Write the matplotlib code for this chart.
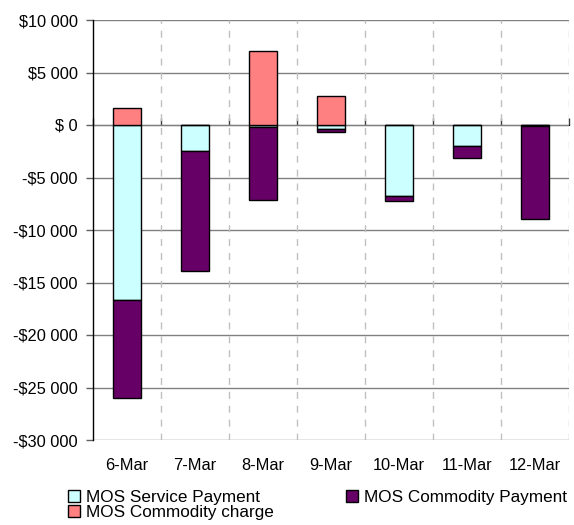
import matplotlib.pyplot as plt
import numpy as np

plt.rcParams['font.family'] = ['Liberation Sans', 'DejaVu Sans']

dates = ['6-Mar', '7-Mar', '8-Mar', '9-Mar', '10-Mar', '11-Mar', '12-Mar']
service_payment = [-16700, -2450, -220, -410, -6730, -1970, -100]
commodity_payment = [-9300, -11450, -6920, -290, -470, -1140, -8880]
commodity_charge = [1650, 0, 7050, 2800, 0, 0, 0]
yticks = [10000, 5000, 0, -5000, -10000, -15000, -20000, -25000, -30000]
ytick_labels = ['$10 000', '$5 000', '$ 0', '-$5 000', '-$10 000', '-$15 000',
                '-$20 000', '-$25 000', '-$30 000']

fig = plt.figure(figsize=(5.74, 5.25), dpi=100)
ax = fig.add_axes([93/574, 1 - 440/525, 476/574, 420/525])

x = np.arange(len(dates))
w = 0.4
ax.bar(x, service_payment, w, color='#CCFFFF', edgecolor='black', linewidth=1,
       label='MOS Service Payment', zorder=3)
ax.bar(x, commodity_payment, w, bottom=service_payment, color='#660066',
       edgecolor='black', linewidth=1, label='MOS Commodity Payment', zorder=3)
ax.bar(x, commodity_charge, w, color='#FF8080', edgecolor='black', linewidth=1,
       label='MOS Commodity charge', zorder=3)

ax.set_xlim(-0.5, len(dates) - 0.5)
ax.set_ylim(-30000, 10000)

# horizontal grid
for v in yticks:
    ax.axhline(v, color='#808080', linewidth=1, zorder=1)
# vertical dashed separators
for b in np.arange(0.5, len(dates), 1.0):
    ax.axvline(b, color='#C0C0C0', linewidth=1, linestyle=(0, (5, 5)), zorder=1)

ax.set_yticks(yticks)
ax.set_yticklabels(ytick_labels, fontsize=11.8)
ax.tick_params(axis='y', length=5, width=1, pad=6, color='#606060')

ax.set_xticks(x)
ax.set_xticklabels(dates, fontsize=11.8)
ax.tick_params(axis='x', length=0, pad=13)

for s in ['top', 'right', 'bottom']:
    ax.spines[s].set_visible(False)
ax.spines['left'].set_color('black')
ax.spines['left'].set_linewidth(1)

# tick marks on the zero line at category boundaries
sec = ax.secondary_xaxis(30000 / 40000)
sec.set_xticks(np.arange(-0.5, len(dates), 1.0))
sec.set_xticklabels([])
sec.tick_params(length=5, width=1, color='#404040', direction='out')
sec.spines['bottom'].set_visible(False)

h, l = ax.get_legend_handles_labels()
order = [0, 2, 1]
fig.legend([h[i] for i in order], [l[i] for i in order], ncol=2,
           loc='upper left', bbox_to_anchor=(68/574, 1 - 490/525),
           frameon=False, fontsize=12.3, borderpad=0, handlelength=0.7,
           handleheight=0.7, handletextpad=0.35, columnspacing=4.2,
           labelspacing=0.02, borderaxespad=0)

fig.savefig('out.png', dpi=100)
